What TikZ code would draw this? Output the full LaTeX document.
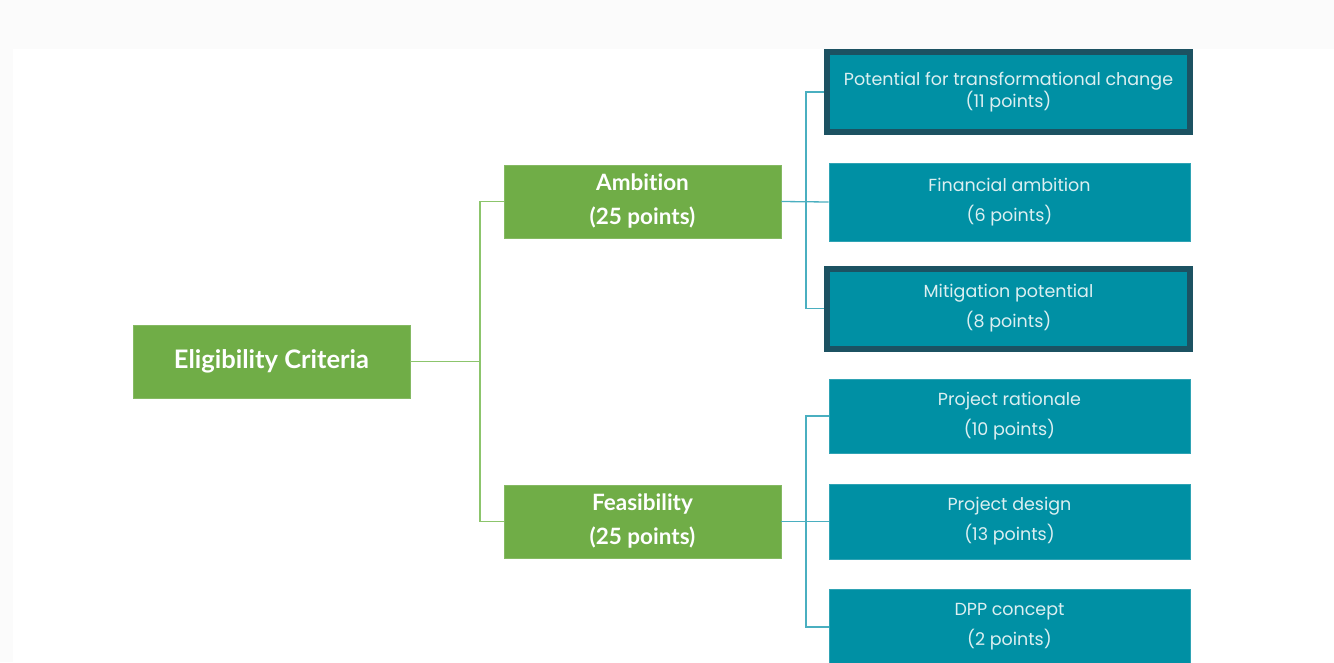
\documentclass[tikz,border=0pt]{standalone}
\usepackage{fontspec}
\setmainfont{Lato}[Ligatures={NoCommon}]
\newfontfamily\tealfont{Poppins}
\definecolor{bggray}{HTML}{FBFBFB}
\definecolor{boxgreen}{HTML}{70AD47}
\definecolor{linegreen}{HTML}{8CC56C}
\definecolor{boxteal}{HTML}{0090A4}
\definecolor{edgeteal}{HTML}{2FA3B4}
\definecolor{lineteal}{HTML}{4AAFC0}
\definecolor{darkedge}{HTML}{1C5262}
\definecolor{tealtext}{HTML}{DCEFF1}
\tikzset{
  greenbox/.style={fill=boxgreen, draw=boxgreen!85!white, line width=0.8pt, text=white,
    minimum width=277pt, minimum height=73pt, align=center, inner sep=0pt,
    font=\bfseries\fontsize{22.5}{34}\selectfont},
  tealbox/.style={fill=boxteal, draw=edgeteal, line width=0.8pt, text=tealtext,
    minimum width=361pt, minimum height=76pt, align=center, inner sep=0pt,
    font=\tealfont\fontsize{17.5}{30}\selectfont},
  hibox/.style={tealbox, draw=darkedge, line width=6pt, minimum width=363pt, minimum height=80pt},
  gline/.style={draw=linegreen, line width=1.3pt},
  tline/.style={draw=lineteal, line width=1.3pt},
}
\begin{document}
\begin{tikzpicture}[x=1pt,y=-1pt]
\useasboundingbox (0,0) rectangle (1334,662);
\fill[bggray] (0,0) rectangle (1334,662);
\fill[white] (13,49) rectangle (1334,662);

\node[greenbox, font=\bfseries\fontsize{25.5}{30}\selectfont] (ec) at (271.5,361.5) {Eligibility Criteria};
\node[greenbox] (amb) at (642.5,201.5) {Ambition\\(25 points)};
\node[greenbox] (fea) at (642.5,521.5) {Feasibility\\(25 points)};

\node[hibox, font=\tealfont\fontsize{17.5}{22}\selectfont] (t1) at (1008.5,92) {Potential for transformational change\\(11 points)};
\node[tealbox, minimum height=78pt] (t2) at (1009.5,202) {Financial ambition\\(6 points)};
\node[hibox] (t3) at (1008.5,308.5) {Mitigation potential\\(8 points)};
\node[tealbox, minimum height=74pt] (t4) at (1009.5,416) {Project rationale\\(10 points)};
\node[tealbox, minimum height=75pt] (t5) at (1009.5,521.5) {Project design\\(13 points)};
\node[tealbox, minimum height=76pt] (t6) at (1009.5,627) {DPP concept\\(2 points)};

\coordinate (gj) at (480,361.5);
\draw[gline] (ec.east) -- (gj);
\draw[gline] (gj) |- (amb.west);
\draw[gline] (gj) |- (fea.west);

\coordinate (tj1) at (806,202);
\draw[tline] (amb.east) -- (t2.west);
\draw[tline] (tj1) |- (t1.west);
\draw[tline] (tj1) |- (t3.west);

\coordinate (tj2) at (806,521.5);
\draw[tline] (fea.east) -- (t5.west);
\draw[tline] (tj2) |- (t4.west);
\draw[tline] (tj2) |- (t6.west);
\end{tikzpicture}
\end{document}
